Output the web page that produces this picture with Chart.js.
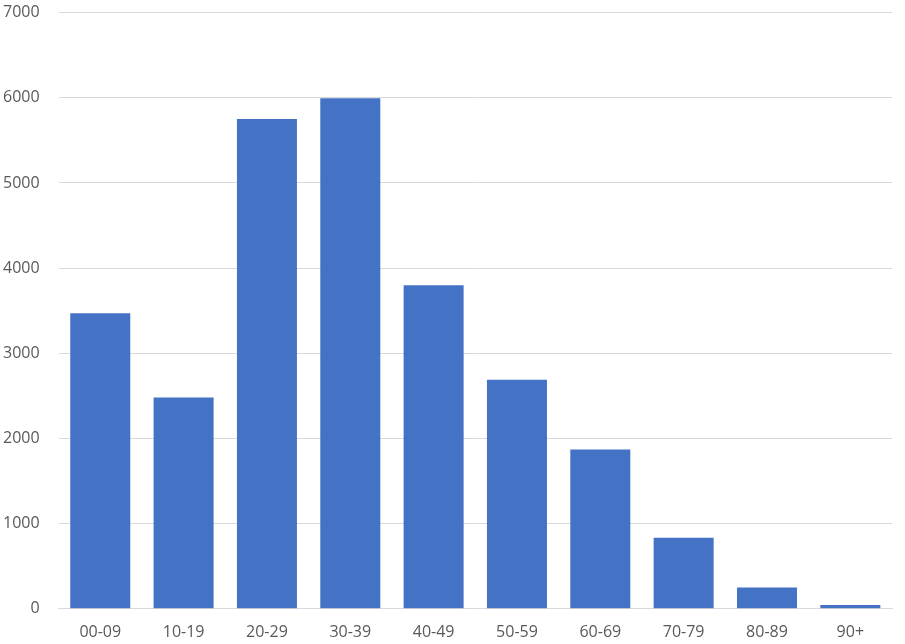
<!DOCTYPE html>
<html>
<head>
<meta charset="utf-8">
<script src="https://cdn.jsdelivr.net/npm/chart.js@4"></script>
<style>
  html, body { margin: 0; padding: 0; background: #fff; }
  #wrap { width: 905px; height: 644px; overflow: hidden; position: relative; }
  #myChart { position: absolute; left: -16px; top: -16px; }
</style>
</head>
<body>
<div id="wrap"><canvas id="myChart" width="921" height="672"></canvas></div>
<script>
// age groups and counts
const ageGroups = ['00-09', '10-19', '20-29', '30-39', '40-49', '50-59', '60-69', '70-79', '80-89', '90+'];
const counts = [3470, 2480, 5750, 5995, 3800, 2690, 1870, 835, 250, 45];
const yTicks = [0, 1000, 2000, 3000, 4000, 5000, 6000, 7000];

const ctx = document.getElementById('myChart').getContext('2d');
const myChart = new Chart(ctx, {
    type: 'bar',
    data: {
        labels: ageGroups,
        datasets: [{
            data: counts,
            backgroundColor: '#4472C4',
            barPercentage: 0.72,
            categoryPercentage: 1.0
        }]
    },
    options: {
        responsive: false,
        animation: false,
        layout: { padding: { top: 0, right: 13, left: 0, bottom: 0 } },
        plugins: { legend: { display: false }, tooltip: { enabled: false } },
        scales: {
            x: {
                grid: { display: false, drawTicks: false },
                border: { color: '#d9d9d9', width: 1 },
                ticks: { color: '#595959', font: { family: 'Open Sans', size: 16 }, padding: 14 }
            },
            y: {
                min: 0,
                max: 7000,
                afterBuildTicks: axis => { axis.ticks = yTicks.map(v => ({ value: v })); },
                grid: { color: '#d9d9d9', drawTicks: false },
                border: { display: false },
                ticks: {
                    color: '#595959',
                    font: { family: 'Open Sans', size: 16 },
                    padding: 19,
                    callback: v => String(v)
                }
            }
        }
    }
});
</script>
</body>
</html>
